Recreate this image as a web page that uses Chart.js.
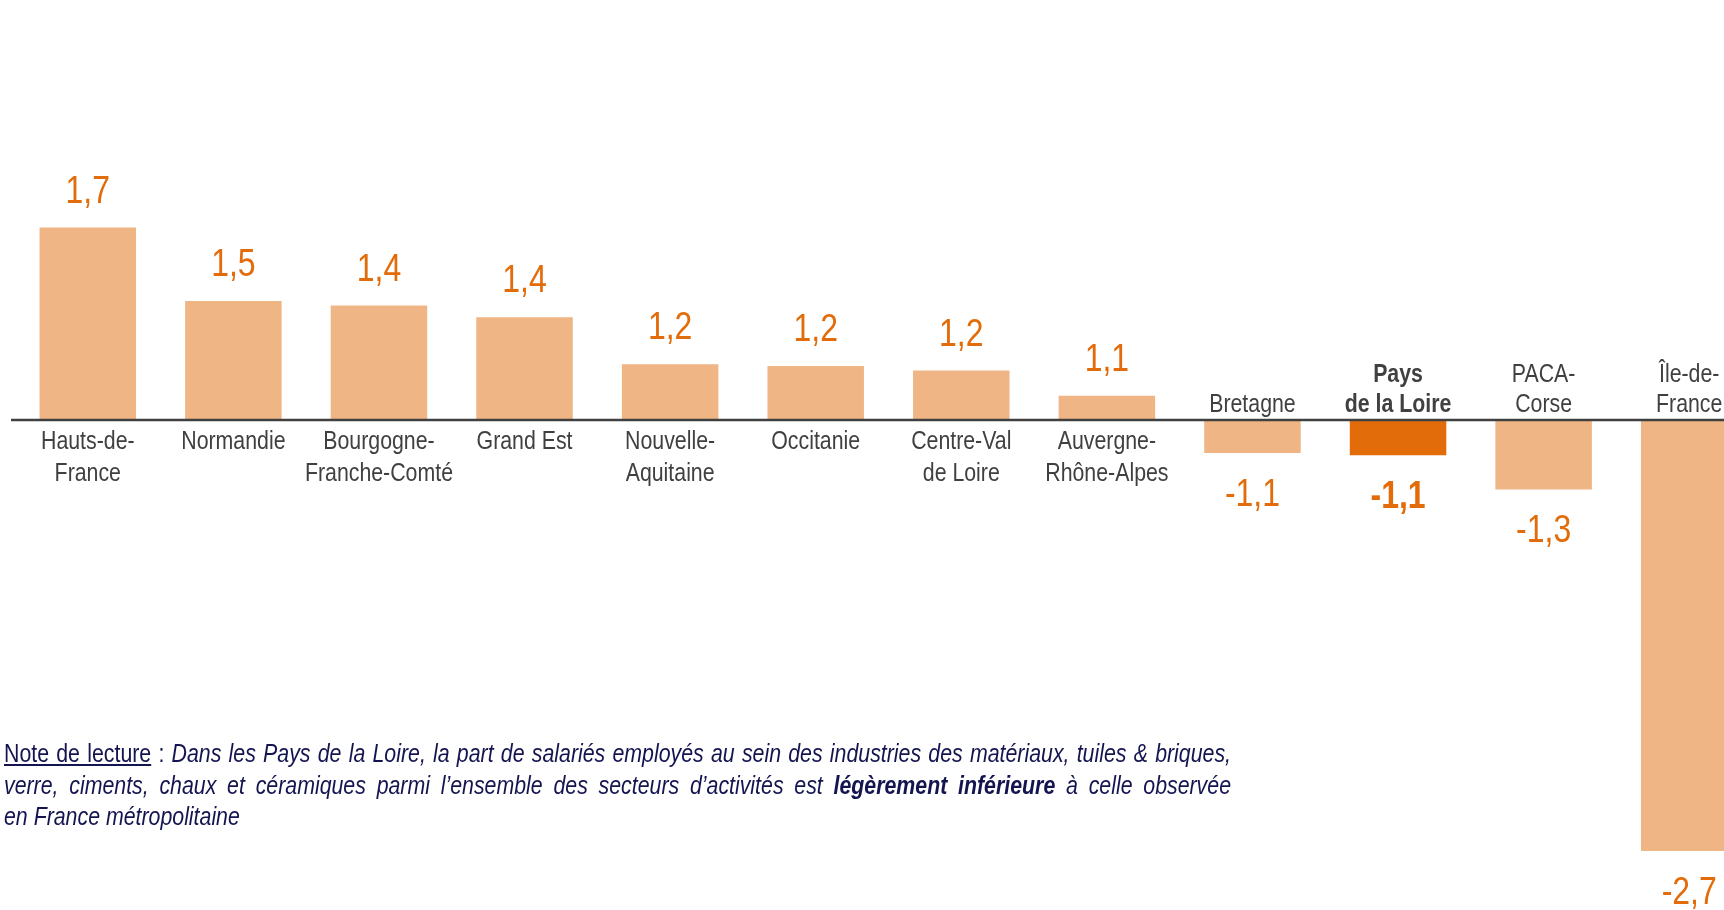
<!DOCTYPE html>
<html><head><meta charset="utf-8">
<script src="https://cdn.jsdelivr.net/npm/chart.js@4"></script>
<style>
html,body{margin:0;padding:0;background:#fff;overflow:hidden;width:1724px;height:910px;}
#wrap{position:absolute;left:0;top:0;width:1778px;height:910px;}
#note{position:absolute;left:4px;top:738px;width:1227px;font-size:26px;line-height:31.5px;color:#141450;font-family:"Liberation Sans Narrow","Arial Narrow",sans-serif;transform-origin:0 0;}
#note .j{text-align:justify;text-align-last:justify;white-space:nowrap;}
#note .l{text-align:left;white-space:nowrap;}
#note i{font-style:italic}
#note u{text-decoration:underline;}
</style></head><body>
<div id="wrap"><canvas id="c" width="1778" height="910"></canvas></div>
<div id="note">
<div class="j" style="white-space:normal"><u>Note de lecture</u> : <i>Dans les Pays de la Loire, la part de salariés employés au sein des industries des matériaux, tuiles &amp; briques,</i></div>
<div class="j" style="white-space:normal"><i>verre, ciments, chaux et céramiques parmi l’ensemble des secteurs d’activités est <b>légèrement inférieure</b> à celle observée</i></div>
<div class="l"><i>en France métropolitaine</i></div>
</div>
<script>
const categories = [["Hauts-de-","France"],["Normandie"],["Bourgogne-","Franche-Comté"],["Grand Est"],["Nouvelle-","Aquitaine"],["Occitanie"],["Centre-Val","de Loire"],["Auvergne-","Rhône-Alpes"],["Bretagne"],["Pays","de la Loire"],["PACA-","Corse"],["Île-de-","France"]];
const valueLabels = ["1,7","1,5","1,4","1,4","1,2","1,2","1,2","1,1","-1,1","-1,1","-1,3","-2,7"];
const barValues = [0.74,0.458,0.44,0.395,0.214,0.208,0.19,0.093,-0.127,-0.136,-0.267,-1.658];
const highlightIndex = 9;

const LIGHT = '#F0B584', DARK = '#E36C0A', LABEL_ORANGE = '#E36C0A', GREY = '#404040';

function hasFont(name){
  const c = document.createElement('canvas').getContext('2d');
  const t = 'Normandie Franche-Comté 1234567890';
  c.font = '40px monospace'; const a = c.measureText(t).width;
  c.font = '40px "' + name + '", monospace'; const b = c.measureText(t).width;
  return a !== b;
}
const NARROW = hasFont('Liberation Sans Narrow');
if (!NARROW) {
  const n = document.getElementById('note');
  n.style.fontFamily = '"Liberation Sans", Arial, sans-serif';
  n.style.width = (1227/0.82) + 'px';
  n.style.transform = 'scaleX(0.82)';
}
function txt(ctx, s, x, y, size, bold, color){
  ctx.save();
  ctx.fillStyle = color; ctx.textAlign = 'center'; ctx.textBaseline = 'alphabetic';
  if (NARROW) {
    ctx.font = (bold ? 'bold ' : '') + size + 'px "Liberation Sans Narrow"';
    ctx.fillText(s, x, y);
  } else {
    ctx.font = (bold ? 'bold ' : '') + size + 'px "Liberation Sans"';
    ctx.translate(x, y); ctx.scale(0.82, 1); ctx.fillText(s, 0, 0);
  }
  ctx.restore();
}

const labelPlugin = {
  id: 'labelPlugin',
  afterDatasetsDraw(chart){
    const ctx = chart.ctx;
    const y0 = chart.scales.y.getPixelForValue(0);
    ctx.save();
    ctx.strokeStyle = GREY; ctx.lineWidth = 2.5;
    ctx.beginPath(); ctx.moveTo(11, y0); ctx.lineTo(chart.width, y0); ctx.stroke();
    ctx.restore();
    const meta = chart.getDatasetMeta(0);
    meta.data.forEach((bar, i) => {
      const x = bar.x, v = barValues[i];
      const bold = i === highlightIndex;
      if (v >= 0) {
        txt(ctx, valueLabels[i], x, bar.y - 25, 39, bold, LABEL_ORANGE);
        categories[i].forEach((line, k) => txt(ctx, line, x, y0 + 29 + k*32, 26, bold, GREY));
      } else {
        txt(ctx, valueLabels[i], x, bar.y + 53, 39, bold, LABEL_ORANGE);
        const n = categories[i].length;
        categories[i].forEach((line, k) => txt(ctx, line, x, y0 - 8 - (n-1-k)*30, 26, bold, GREY));
      }
    });
  }
};

new Chart(document.getElementById('c'), {
  type: 'bar',
  data: {
    labels: categories.map(l => l.join(' ')),
    datasets: [{
      data: barValues,
      backgroundColor: barValues.map((v, i) => i === highlightIndex ? DARK : LIGHT),
      borderWidth: 0,
      barPercentage: 0.663,
      categoryPercentage: 1
    }]
  },
  options: {
    responsive: false,
    animation: false,
    devicePixelRatio: 1,
    layout: { padding: { left: 15, right: 16, top: 0, bottom: 0 } },
    plugins: { legend: { display: false }, tooltip: { enabled: false } },
    scales: {
      x: { display: false },
      y: { display: false, min: -1.8846, max: 1.6154 }
    }
  },
  plugins: [labelPlugin]
});
</script>
</body></html>
